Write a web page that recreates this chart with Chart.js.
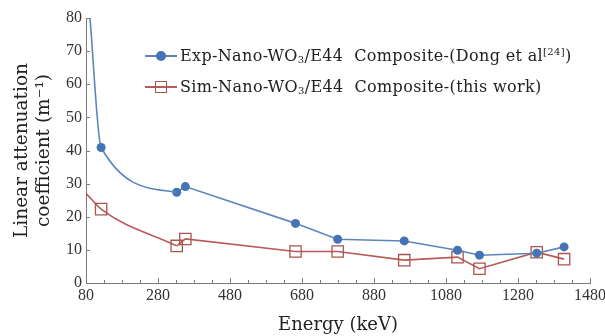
<!DOCTYPE html>
<html>
<head>
<meta charset="utf-8">
<script src="https://cdn.jsdelivr.net/npm/chart.js@4/dist/chart.umd.min.js"></script>
<style>
  html, body { margin: 0; padding: 0; background: #fff; overflow: hidden; }
  #wrap { position: relative; width: 605px; height: 336px; overflow: hidden; }
  #c { position: absolute; left: 0; top: 0; }
  .lg { position: absolute; left: 145px; height: 20px; font-family: "DejaVu Serif", serif; font-size: 16px; letter-spacing: 0.35px; color: #222; white-space: nowrap; }
  .lg .line { position: absolute; left: 0; top: 9px; width: 32px; height: 2px; }
  .lg .mk { position: absolute; }
  .lg .txt { position: absolute; left: 35px; top: 0; line-height: 20px; }
  .lg sub, .lg sup { font-size: 10px; line-height: 0; }
  .lg sub { vertical-align: -2px; }
</style>
</head>
<body>
<div id="wrap">
  <canvas id="c" width="625" height="336"></canvas>
  <div class="lg" style="top:46px;">
    <div class="line" style="background:#5b86bd;"></div>
    <div class="mk" style="left:11px;top:5px;width:10px;height:10px;border-radius:50%;background:#4473b6;"></div>
    <span class="txt">Exp-Nano-WO<sub>3</sub>/E44&nbsp;&nbsp;Composite-(Dong et al<sup>[24]</sup>)</span>
  </div>
  <div class="lg" style="top:77px;">
    <div class="line" style="background:#b85a58;"></div>
    <div class="mk" style="left:10px;top:4px;width:10px;height:10px;border:1.3px solid #a8554f;background:transparent;"></div>
    <span class="txt">Sim-Nano-WO<sub>3</sub>/E44&nbsp;&nbsp;Composite-(this work)</span>
  </div>
</div>
<script>
// ---- data ----
const expEnergy = [91, 122, 332, 356, 662, 779, 964, 1112, 1173, 1332, 1408];
const expValue  = [80, 40.9, 27.4, 29.1, 18.0, 13.2, 12.7, 9.9, 8.4, 9.0, 10.9];
const expMarker = [false, true, true, true, true, true, true, true, true, true, true];

const simEnergy = [80, 122, 332, 356, 662, 779, 964, 1112, 1173, 1332, 1408];
const simValue  = [27.1, 22.3, 11.2, 13.3, 9.5, 9.5, 6.9, 7.8, 4.3, 9.3, 7.2];
const simMarker = [false, true, true, true, true, true, true, true, true, true, true];

// the low-energy part of each line is drawn as a smooth curve, the rest as straight segments
const curvedUpTo = 2;

const xTickValues = [80, 280, 480, 680, 880, 1080, 1280, 1480];
const yTickValues = [0, 10, 20, 30, 40, 50, 60, 70, 80];

const expLabel = 'Exp-Nano-WO3/E44 Composite-(Dong et al[24])';
const simLabel = 'Sim-Nano-WO3/E44 Composite-(this work)';
const xTitle = 'Energy (keV)';
const yTitle = ['Linear attenuation', 'coefficient (m\u207B\u00B9)'];

function pts(energy, value, marker) {
  return energy.map((e, i) => ({ x: e, y: value[i], m: marker[i] }));
}
const expPts = pts(expEnergy, expValue, expMarker);
const simPts = pts(simEnergy, simValue, simMarker);

const axisColor = '#7c7c7c';
const blueLine = '#5b86bd', blueMark = '#4473b6';
const redLine = '#b85a58', redMark = '#a8554f';

function makeSets(label, points, lineColor, markColor, style, radius) {
  const head = points.slice(0, curvedUpTo + 1);
  const tail = points.slice(curvedUpTo);
  const common = {
    label: label,
    borderColor: lineColor,
    borderWidth: 1.6,
    pointStyle: style,
    pointBorderColor: markColor,
    pointBorderWidth: style === 'rect' ? 1.3 : 0,
    pointBackgroundColor: style === 'rect' ? 'rgba(0,0,0,0)' : markColor,
    backgroundColor: markColor,
    fill: false
  };
  return [
    Object.assign({}, common, {
      data: head,
      cubicInterpolationMode: 'monotone',
      pointRadius: c => (c.raw && c.raw.m && c.dataIndex < curvedUpTo) ? radius : 0
    }),
    Object.assign({}, common, {
      data: tail,
      tension: 0,
      pointRadius: c => (c.raw && c.raw.m) ? radius : 0
    })
  ];
}

const innerTicks = {
  id: 'innerTicks',
  afterDatasetsDraw(chart) {
    const ctx = chart.ctx;
    const xs = chart.scales.x, ys = chart.scales.y;
    const bottom = chart.chartArea.bottom, left = chart.chartArea.left;
    ctx.save();
    ctx.strokeStyle = axisColor;
    ctx.lineWidth = 1;
    ctx.beginPath();
    for (let v = xs.min; v <= xs.max + 0.001; v += 50) {
      const px = Math.round(xs.getPixelForValue(v)) + 0.5;
      const major = xTickValues.includes(v);
      ctx.moveTo(px, bottom);
      ctx.lineTo(px, bottom - (major ? 5 : 3));
    }
    for (const v of yTickValues) {
      const py = Math.round(ys.getPixelForValue(v)) + 0.5;
      ctx.moveTo(left, py);
      ctx.lineTo(left + 4, py);
    }
    ctx.stroke();
    ctx.restore();
  }
};

new Chart(document.getElementById('c'), {
  type: 'line',
  data: {
    datasets: [
      ...makeSets(expLabel, expPts, blueLine, blueMark, 'circle', 4.5),
      ...makeSets(simLabel, simPts, redLine, redMark, 'rect', 8)
    ]
  },
  options: {
    responsive: false,
    animation: false,
    events: [],
    parsing: false,
    layout: { padding: { top: 18, right: 35, left: 0, bottom: 0 } },
    plugins: { legend: { display: false }, tooltip: { enabled: false } },
    scales: {
      x: {
        type: 'linear',
        min: 80, max: 1480,
        afterFit: s => { s.height = 53; },
        afterBuildTicks: s => { s.ticks = xTickValues.map(v => ({ value: v })); },
        grid: { display: false, drawTicks: false },
        border: { display: true, color: axisColor, width: 1 },
        ticks: {
          autoSkip: false, maxRotation: 0, padding: 3,
          color: '#333',
          callback: v => String(v),
          font: { family: '"Liberation Serif", serif', size: 16 }
        },
        title: {
          display: true, text: xTitle, color: '#222',
          padding: { top: 0, bottom: 0 },
          font: { family: '"DejaVu Serif", serif', size: 18 }
        }
      },
      y: {
        type: 'linear',
        min: 0, max: 80,
        afterFit: s => { s.width = 86; },
        afterBuildTicks: s => { s.ticks = yTickValues.map(v => ({ value: v })); },
        grid: { display: false, drawTicks: false },
        border: { display: true, color: axisColor, width: 1 },
        ticks: {
          padding: 4,
          color: '#333',
          callback: v => String(v),
          font: { family: '"Liberation Serif", serif', size: 16 }
        },
        title: {
          display: true, text: yTitle, color: '#222',
          padding: { top: 11, bottom: 0 },
          font: { family: '"DejaVu Serif", serif', size: 18.5 }
        }
      }
    }
  },
  plugins: [innerTicks]
});
</script>
</body>
</html>
